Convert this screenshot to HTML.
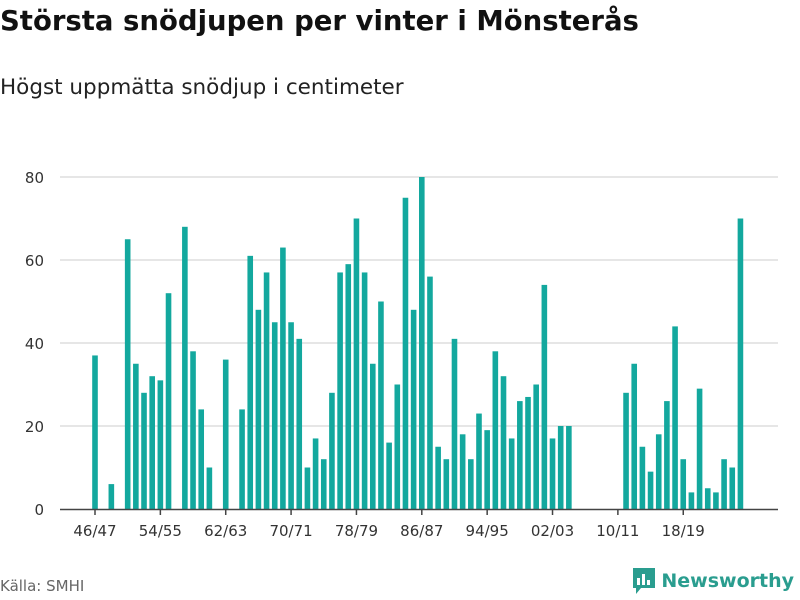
<!DOCTYPE html>
<html><head><meta charset="utf-8"><style>
body{margin:0;width:800px;height:600px;background:#fff;font-family:"DejaVu Sans","Liberation Sans",sans-serif;overflow:hidden;position:relative}
#title{position:absolute;left:0;top:5px;font-size:27.5px;font-weight:bold;color:#111;white-space:nowrap}
#sub{position:absolute;left:0;top:75px;font-size:21.5px;color:#222;white-space:nowrap}
#src{position:absolute;left:0;top:577px;font-size:15px;color:#666}
#logo{position:absolute;right:6px;top:568px;display:flex;align-items:center;gap:6px;color:#2a9d8f;font-weight:bold;font-size:19px}
</style></head><body>
<div id="title">Största snödjupen per vinter i Mönsterås</div>
<div id="sub">Högst uppmätta snödjup i centimeter</div>
<svg id="chart" width="800" height="600" style="position:absolute;left:0;top:0"></svg>
<div id="src">Källa: SMHI</div>
<div id="logo"><svg width="22" height="26" viewBox="0 0 22 26"><path d="M0 0H22V20H8L3 26V20H0Z" fill="#2a9d8f"/><rect x="4" y="10" width="3" height="7" fill="#fff"/><rect x="9" y="6" width="3" height="11" fill="#fff"/><rect x="14" y="12" width="3" height="5" fill="#fff"/></svg><span>Newsworthy</span></div>
<script>
const seasons=[];for(let y=1946;y<=2025;y++){seasons.push(String(y%100).padStart(2,'0')+'/'+String((y+1)%100).padStart(2,'0'));}
const values=[37,null,6,null,65,35,28,32,31,52,null,68,38,24,10,null,36,null,24,61,48,57,45,63,45,41,10,17,12,28,57,59,70,57,35,50,16,30,75,48,80,56,15,12,41,18,12,23,19,38,32,17,26,27,30,54,17,20,20,null,null,null,null,null,null,28,35,15,9,18,26,44,12,4,29,5,4,12,10,70];
const yTicks=[0,20,40,60,80];
const xTickLabels=['46/47','54/55','62/63','70/71','78/79','86/87','94/95','02/03','10/11','18/19'];
const svg=document.getElementById('chart');const NS='http://www.w3.org/2000/svg';
const x=i=>95+i*8.17;const y=v=>509-v*(332/80);
function mk(t,a){const e=document.createElementNS(NS,t);for(const k in a)e.setAttribute(k,a[k]);svg.appendChild(e);return e;}
yTicks.forEach(t=>{
 if(t>0){const g=mk('line',{x1:60,x2:778,y1:y(t),y2:y(t),stroke:'#ddd','stroke-width':1.5});
 
 }
 const l=mk('text',{x:44,y:y(t)+6,'text-anchor':'end','font-size':15,fill:'#333','font-family':'DejaVu Sans, sans-serif'});l.textContent=t;
 
 
});
values.forEach((v,i)=>{if(v==null)return;
 const r=mk('rect',{x:x(i)-2.8,y:y(v),width:5.6,height:509-y(v),fill:'#13a89e'});
 
 
});
const ax=mk('line',{x1:60,x2:778,y1:509.5,y2:509.5,stroke:'#444','stroke-width':1.5});


xTickLabels.forEach(lab=>{const i=seasons.indexOf(lab);
 mk('line',{x1:x(i),x2:x(i),y1:509,y2:515,stroke:'#444','stroke-width':1.5});
 const t=mk('text',{x:x(i),y:536,'text-anchor':'middle','font-size':15,fill:'#333','font-family':'DejaVu Sans, sans-serif'});t.textContent=lab;
 
 
});
</script>
</body></html>
